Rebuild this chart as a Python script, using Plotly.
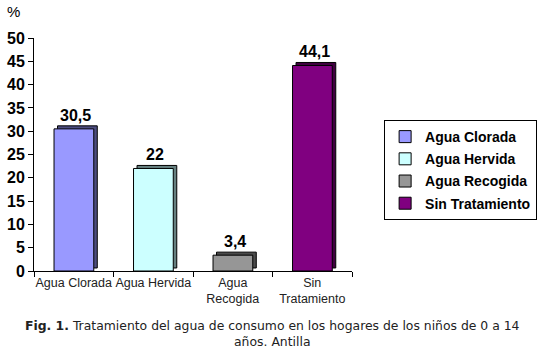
import plotly.graph_objects as go

# Water treatment in households with children aged 0-14 (Antilla)
categories = ["Agua Clorada", "Agua Hervida", "Agua Recogida", "Sin Tratamiento"]
tick_labels = ["Agua Clorada", "Agua Hervida", "Agua<br>Recogida", "Sin<br>Tratamiento"]
values = [30.5, 22, 3.4, 44.1]
value_labels = ["30,5", "22", "3,4", "44,1"]
face_colors = ["#9999FF", "#CCFFFF", "#969696", "#800080"]
side_colors = ["#4D4D80", "#668080", "#4B4B4B", "#400040"]

DEPTH_X = 0.044   # pseudo-3D depth in category units
DEPTH_Y = 0.65    # pseudo-3D depth in value units
BAR_W = 0.5
BAR_OFF = -0.248

fig = go.Figure()

for cat, v, fc, sc in zip(categories, values, face_colors, side_colors):
    # back block gives the side and top faces of the 3D bar
    fig.add_trace(go.Bar(
        x=[cat], y=[v], base=[DEPTH_Y],
        offset=BAR_OFF + DEPTH_X, width=BAR_W,
        marker=dict(color=sc, line=dict(color="black", width=1)),
        showlegend=False, hoverinfo="skip",
    ))
    # front face
    fig.add_trace(go.Bar(
        x=[cat], y=[v], name=cat, legendgroup=cat,
        offset=BAR_OFF, width=BAR_W,
        marker=dict(color=fc, line=dict(color="black", width=1)),
    ))

annotations = [
    dict(x=cat, y=v, text=lbl, xref="x", yref="y", yanchor="bottom",
         xshift=2, yshift=3, showarrow=False,
         font=dict(family="Liberation Sans", size=16, color="black", weight="bold"))
    for cat, v, lbl in zip(categories, values, value_labels)
]
annotations += [
    dict(text="%", xref="paper", yref="paper", x=-0.092, y=1.07,
         xanchor="left", yanchor="bottom", showarrow=False,
         font=dict(family="Liberation Sans", size=15, color="black")),
    dict(text="<b>Fig. 1.</b> Tratamiento del agua de consumo en los hogares de los niños de 0 a 14<br>años. Antilla",
         xref="paper", yref="paper", x=0.749, y=-0.195,
         xanchor="center", yanchor="top", showarrow=False, align="center",
         font=dict(family="DejaVu Sans", size=12.4, color="#222222")),
]

fig.update_layout(
    width=543, height=350,
    margin=dict(l=34, r=191, t=38, b=79, autoexpand=False),
    plot_bgcolor="white", paper_bgcolor="white",
    barmode="overlay",
    xaxis=dict(
        type="category", categoryorder="array", categoryarray=categories,
        tickvals=categories, ticktext=tick_labels, tickangle=0,
        tickson="boundaries", ticks="outside", ticklen=5, tickcolor="black",
        showline=True, linecolor="black", linewidth=1,
        showgrid=False, range=[-0.5, 3.5],
        tickfont=dict(family="Liberation Sans", size=12.5, color="#222222"),
    ),
    yaxis=dict(
        range=[0, 50], dtick=5, ticks="outside", ticklen=5, tickcolor="black",
        showline=True, linecolor="black", linewidth=1,
        showgrid=False, zeroline=False,
        tickfont=dict(family="Liberation Sans", size=16, color="black", weight="bold"),
    ),
    legend=dict(
        x=1.101, y=0.648, xanchor="left", yanchor="top",
        bordercolor="black", borderwidth=1, bgcolor="white",
        font=dict(family="Liberation Sans", size=14, color="black", weight="bold"),
        tracegroupgap=1, itemwidth=30,
    ),
    annotations=annotations,
)

fig.write_html("out.html")
